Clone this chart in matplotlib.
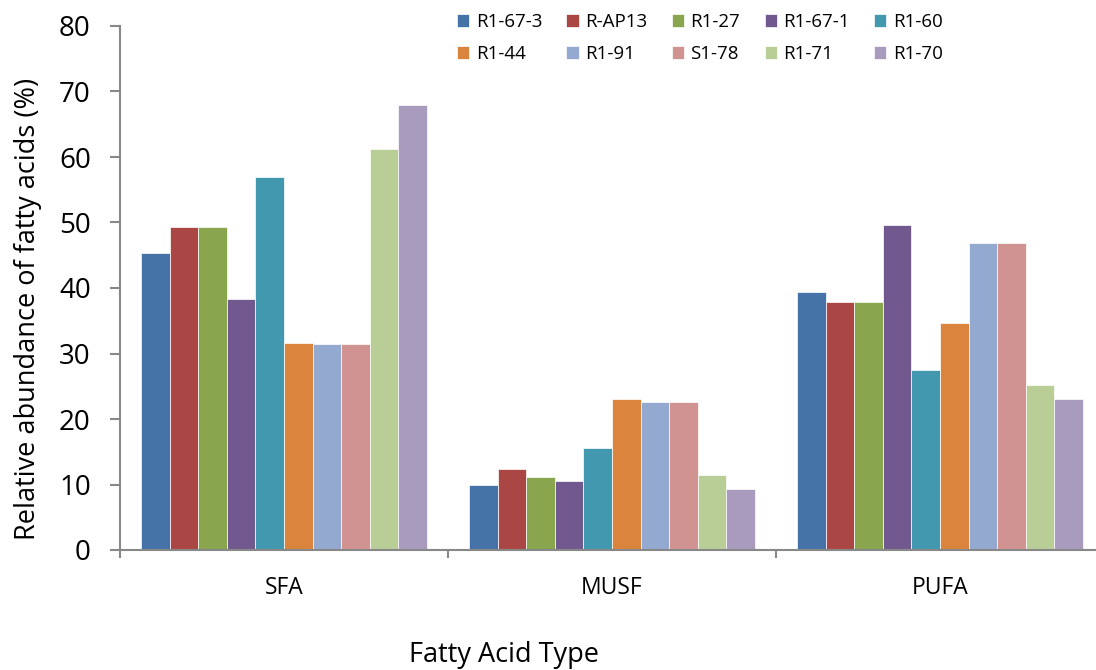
import numpy as np
import matplotlib
matplotlib.use("Agg")
import matplotlib.pyplot as plt

plt.rcParams['font.family'] = ['Open Sans', 'DejaVu Sans']

categories = ["SFA", "MUSF", "PUFA"]
strains = ["R1-67-3", "R-AP13", "R1-27", "R1-67-1", "R1-60",
           "R1-44", "R1-91", "S1-78", "R1-71", "R1-70"]
# relative abundance (%) per strain for SFA, MUSF, PUFA
values = {
    "R1-67-3": [45.4, 10.0, 39.4],
    "R-AP13":  [49.3, 12.3, 37.8],
    "R1-27":   [49.3, 11.1, 37.8],
    "R1-67-1": [38.3, 10.6, 49.6],
    "R1-60":   [56.9, 15.5, 27.5],
    "R1-44":   [31.6, 23.1, 34.7],
    "R1-91":   [31.4, 22.6, 46.8],
    "S1-78":   [31.4, 22.6, 46.8],
    "R1-71":   [61.2, 11.4, 25.2],
    "R1-70":   [68.0, 9.3, 23.0],
}
colors = ["#4572A7", "#AA4643", "#89A54E", "#71588F", "#4198AF",
          "#DB843D", "#93A9CF", "#D19392", "#B9CD96", "#A99BBD"]

fig = plt.figure(figsize=(10.96, 6.70), dpi=100)
ax = fig.add_axes([120 / 1096, 120 / 670, 984 / 1096, 524 / 670])

x = np.arange(len(categories))
w = 0.0869
handles = []
for i, s in enumerate(strains):
    b = ax.bar(x + (i - 4.5) * w, values[s], w, color=colors[i],
               edgecolor="white", linewidth=0.5, label=s)
    handles.append(b)

ax.set_xlim(-0.5, 2.5)
ax.set_ylim(0, 80)
ax.set_yticks(range(0, 81, 10))
ax.tick_params(axis="y", labelsize=20, length=7, width=1.5, color="#888888", pad=14)

ax.set_xticks([-0.5, 0.5, 1.5, 2.5])
ax.set_xticklabels([])
ax.set_xticks(x, minor=True)
ax.set_xticklabels(categories, minor=True)
ax.tick_params(axis="x", which="major", length=6, width=1.5, color="#888888")
ax.tick_params(axis="x", which="minor", length=0, labelsize=16.5, pad=19)

for side in ["top", "right"]:
    ax.spines[side].set_visible(False)
for side in ["left", "bottom"]:
    ax.spines[side].set_color("#888888")
    ax.spines[side].set_linewidth(1.5)

ax.set_ylabel("Relative abundance of fatty acids (%)", fontsize=19.5, va="center")
ax.yaxis.set_label_coords(-0.093, 0.46)
ax.set_xlabel("Fatty Acid Type", fontsize=19.5, va="center")
ax.xaxis.set_label_coords(0.39, -0.2)

order = [0, 5, 1, 6, 2, 7, 3, 8, 4, 9]
ax.legend([handles[k] for k in order], [strains[k] for k in order],
          ncol=5, frameon=False, fontsize=13.5,
          loc="upper left", bbox_to_anchor=(440 / 1096, 1 + 4 / 670),
          bbox_transform=fig.transFigure,
          handlelength=0.65, handleheight=0.65, handletextpad=0.35,
          columnspacing=1.3, labelspacing=0.75)

fig.savefig("out.png", dpi=100)
